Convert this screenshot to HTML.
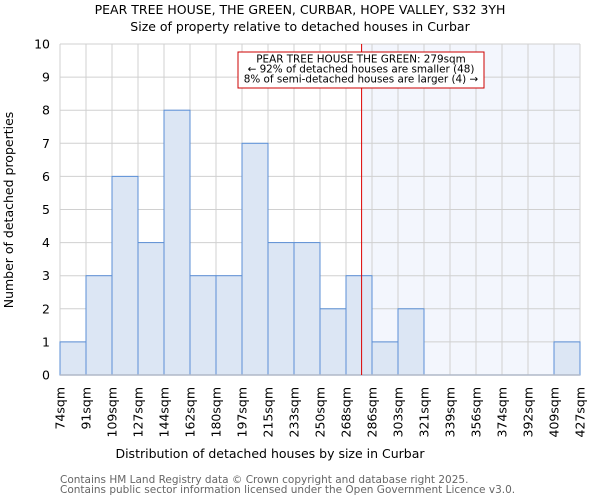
<!DOCTYPE html>
<html><head><meta charset="utf-8"><style>
body{margin:0;background:#fff}
svg{display:block;font-family:"DejaVu Sans","Liberation Sans",sans-serif}
</style></head><body>
<svg id="c" width="600" height="500">
<text x="300" y="14" text-anchor="middle" font-size="12.5">PEAR TREE HOUSE, THE GREEN, CURBAR, HOPE VALLEY, S32 3YH</text>
<text x="300" y="31" text-anchor="middle" font-size="12.5">Size of property relative to detached houses in Curbar</text>
<g id="plot"></g>
<text x="270" y="458" text-anchor="middle" font-size="12.5">Distribution of detached houses by size in Curbar</text>
<text transform="translate(13,210) rotate(-90)" text-anchor="middle" font-size="12.5">Number of detached properties</text>
<text x="60" y="483" font-size="10.5" fill="#666">Contains HM Land Registry data © Crown copyright and database right 2025.</text>
<text x="60" y="493" font-size="10.5" fill="#666">Contains public sector information licensed under the Open Government Licence v3.0.</text>
</svg>
<script>
const binLabels=["74sqm","91sqm","109sqm","127sqm","144sqm","162sqm","180sqm","197sqm","215sqm","233sqm","250sqm","268sqm","286sqm","303sqm","321sqm","339sqm","356sqm","374sqm","392sqm","409sqm","427sqm"];
const counts=[1,3,6,4,8,3,3,7,4,4,2,3,1,2,0,0,0,0,0,1];
const yTicks=[0,1,2,3,4,5,6,7,8,9,10];
const markerBin=11.6;
const NS="http://www.w3.org/2000/svg";
const X0=60,X1=580,Y0=375,Y1=44,YMAX=10;
const bw=(X1-X0)/counts.length;
const xs=i=>X0+i*bw;
const ys=v=>Y0-(Y0-Y1)*v/YMAX;
const g=document.getElementById('plot');
function mk(t,a){const e=document.createElementNS(NS,t);for(const k in a)e.setAttribute(k,a[k]);g.appendChild(e);return e;}
const mx=xs(markerBin);
let e=mk('rect',{x:mx,y:Y1,width:X1-mx,height:Y0-Y1,fill:'#f3f6fd'});


yTicks.forEach(v=>{
 let l=mk('line',{x1:X0,x2:X1,y1:ys(v),y2:ys(v),stroke:'#d0d0d0'});
 
 
 let t=mk('text',{x:X0-10,y:ys(v)+4.5,'text-anchor':'end','font-size':'12.5'});t.textContent=v;
 
 
});
binLabels.forEach((s,i)=>{
 let l=mk('line',{x1:xs(i),x2:xs(i),y1:Y1,y2:Y0,stroke:'#d0d0d0'});
 
 
 let t=mk('text',{transform:`translate(${xs(i)+4.5},${Y0+12}) rotate(-90)`,'text-anchor':'end','font-size':'12.5'});t.textContent=s;
 
 
});
counts.forEach((c,i)=>{
 if(c<=0)return;
 let r=mk('rect',{x:xs(i),y:ys(c),width:bw,height:Y0-ys(c),fill:'#dce6f4',stroke:'#5b8fd6','stroke-width':1});
 
 
});
let ax=mk('line',{x1:X0,x2:X1,y1:Y0,y2:Y0,stroke:'#b0b8c8','stroke-width':1.5});


let ml=mk('line',{x1:mx,x2:mx,y1:Y1,y2:Y0,stroke:'#dd0000','stroke-width':1});


let bx=mk('rect',{x:238,y:52,width:246,height:36,fill:'#fff',stroke:'#cc0000','stroke-width':1});


["PEAR TREE HOUSE THE GREEN: 279sqm","← 92% of detached houses are smaller (48)","8% of semi-detached houses are larger (4) →"].forEach((s,i)=>{
 let t=mk('text',{x:361,y:62.5+i*10,'text-anchor':'middle','font-size':'10.4'});t.textContent=s;
 
 
});
</script>
</body></html>
